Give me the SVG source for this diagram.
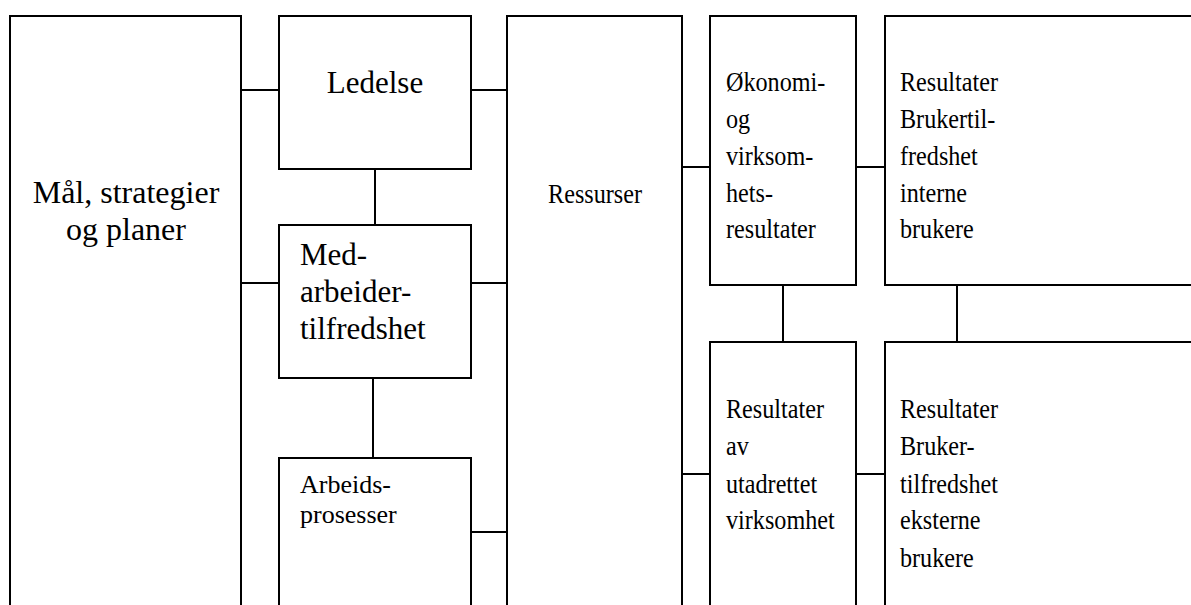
<svg xmlns="http://www.w3.org/2000/svg" width="1191" height="605" viewBox="0 0 1191 605">
<style>
.box{fill:#fff;stroke:#000;stroke-width:2}
.ln{stroke:#000;stroke-width:2;fill:none}
text{fill:#000}
.big{font-size:32px}
.mid{font-size:31px}
.sm{font-size:26px}
.rt{font-size:27px}
</style>
<rect width="1191" height="605" fill="#fff"/>
<g id="connectors">
<line class="ln" x1="241" y1="90" x2="279" y2="90"/>
<line class="ln" x1="471" y1="90" x2="507" y2="90"/>
<line class="ln" x1="241" y1="283" x2="279" y2="283"/>
<line class="ln" x1="471" y1="283" x2="507" y2="283"/>
<line class="ln" x1="471" y1="532" x2="507" y2="532"/>
<line class="ln" x1="375" y1="167" x2="375" y2="225"/>
<line class="ln" x1="373" y1="378" x2="373" y2="458"/>
<line class="ln" x1="682" y1="167" x2="710" y2="167"/>
<line class="ln" x1="856" y1="167" x2="885" y2="167"/>
<line class="ln" x1="682" y1="474" x2="710" y2="474"/>
<line class="ln" x1="856" y1="474" x2="885" y2="474"/>
<line class="ln" x1="783" y1="283" x2="783" y2="342"/>
<line class="ln" x1="957" y1="283" x2="957" y2="342"/>
</g>
<g font-family="Liberation Serif, Times New Roman, Tinos, Noto Serif, DejaVu Serif, FreeSerif, serif">
<g id="maal">
<rect class="box" x="10" y="16" width="231" height="620"/>
<text class="big" text-anchor="middle" x="126" y="203">Mål, strategier</text>
<text class="big" text-anchor="middle" x="126" y="240">og planer</text>
</g>
<g id="ledelse">
<rect class="box" x="279" y="16" width="192" height="153"/>
<text class="mid" text-anchor="middle" x="375" y="93">Ledelse</text>
</g>
<g id="medarbeider">
<rect class="box" x="279" y="225" width="192" height="153"/>
<text class="mid" x="300" y="265">Med-</text>
<text class="mid" x="300" y="302">arbeider-</text>
<text class="mid" x="300" y="339">tilfredshet</text>
</g>
<g id="arbeidsprosesser">
<rect class="box" x="279" y="458" width="192" height="200"/>
<text class="sm" x="300" y="493">Arbeids-</text>
<text class="sm" x="300" y="523">prosesser</text>
</g>
<g id="ressurser">
<rect class="box" x="507" y="16" width="175" height="620"/>
<g transform="matrix(0.895 0 0 1 595 0)">
<text class="rt" text-anchor="middle" x="0" y="203">Ressurser</text>
</g>
</g>
<g id="okonomi">
<rect class="box" x="710" y="16" width="146" height="269"/>
<g transform="matrix(0.895 0 0 1 726 0)">
<text class="rt" x="0" y="91">Økonomi-</text>
<text class="rt" x="0" y="128">og</text>
<text class="rt" x="0" y="165">virksom-</text>
<text class="rt" x="0" y="202">hets-</text>
<text class="rt" x="0" y="238">resultater</text>
</g>
</g>
<g id="interne">
<rect class="box" x="885" y="16" width="330" height="269"/>
<g transform="matrix(0.895 0 0 1 900 0)">
<text class="rt" x="0" y="91">Resultater</text>
<text class="rt" x="0" y="128">Brukertil-</text>
<text class="rt" x="0" y="165">fredshet</text>
<text class="rt" x="0" y="202">interne</text>
<text class="rt" x="0" y="238">brukere</text>
</g>
</g>
<g id="utadrettet">
<rect class="box" x="710" y="342" width="146" height="300"/>
<g transform="matrix(0.895 0 0 1 726 0)">
<text class="rt" x="0" y="418">Resultater</text>
<text class="rt" x="0" y="455">av</text>
<text class="rt" x="0" y="493">utadrettet</text>
<text class="rt" x="0" y="529">virksomhet</text>
</g>
</g>
<g id="eksterne">
<rect class="box" x="885" y="342" width="330" height="300"/>
<g transform="matrix(0.895 0 0 1 900 0)">
<text class="rt" x="0" y="418">Resultater</text>
<text class="rt" x="0" y="455">Bruker-</text>
<text class="rt" x="0" y="493">tilfredshet</text>
<text class="rt" x="0" y="529">eksterne</text>
<text class="rt" x="0" y="567">brukere</text>
</g>
</g>
</g>
</svg>
